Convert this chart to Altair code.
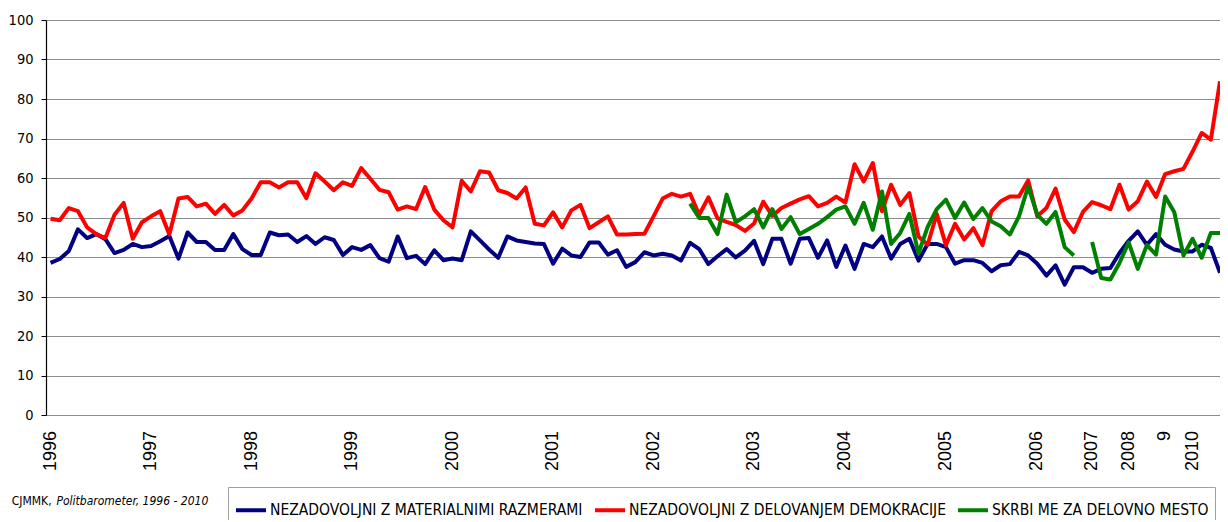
import altair as alt
import pandas as pd

NARROW = "DejaVu Sans Condensed, Liberation Sans Narrow, Liberation Sans, sans-serif"
REG = "Liberation Sans, Arial, sans-serif"

# survey index (one per poll)
categories = list(range(129))

blue = [38.5, 39.5, 41.5, 47.0, 44.8, 45.8, 44.5, 41.0, 41.8, 43.3,
        42.5, 42.8, 44.0, 45.3, 39.6, 46.2, 43.8, 43.8, 41.8, 41.8,
        45.8, 42.0, 40.5, 40.5, 46.2, 45.5, 45.7, 43.8, 45.3, 43.3,
        45.0, 44.3, 40.5, 42.5, 41.8, 43.0, 39.7, 38.8, 45.2, 39.7,
        40.3, 38.2, 41.7, 39.2, 39.6, 39.2, 46.5, 44.2, 41.9, 39.8,
        45.2, 44.2, 43.8, 43.4, 43.3, 38.3, 42.1, 40.4, 40.0, 43.7,
        43.7, 40.6, 41.7, 37.5, 38.7, 41.2, 40.4, 40.8, 40.4, 39.1,
        43.6, 42.0, 38.2, 40.2, 42.0, 39.9, 41.6, 44.1, 38.2, 44.6,
        44.6, 38.3, 44.6, 44.8, 39.8, 44.2, 37.5, 42.9, 37.0, 43.3,
        42.5, 45.2, 39.6, 43.3, 44.6, 39.1, 43.3, 43.3, 42.5, 38.3,
        39.2, 39.2, 38.5, 36.4, 37.9, 38.2, 41.3, 40.4, 38.3, 35.3,
        37.9, 33.0, 37.4, 37.4, 36.0, 37.0, 37.2, 41.0, 44.1, 46.5,
        43.1, 45.8, 43.1, 41.9, 41.4, 41.4, 43.1, 42.3, 36.0]

red = [49.7, 49.3, 52.4, 51.6, 47.5, 45.8, 44.8, 50.7, 53.7, 44.6,
       48.8, 50.3, 51.6, 45.7, 54.8, 55.2, 52.8, 53.5, 50.9, 53.2,
       50.5, 51.8, 54.8, 58.9, 58.9, 57.6, 58.9, 58.9, 54.9, 61.2,
       59.1, 56.9, 58.9, 58.0, 62.5, 59.8, 57.0, 56.4, 52.0, 52.8,
       52.1, 57.7, 52.0, 49.3, 47.5, 59.3, 56.6, 61.7, 61.4, 56.9,
       56.2, 54.8, 57.6, 48.4, 48.0, 51.3, 47.5, 51.8, 53.2, 47.3,
       48.8, 50.3, 45.7, 45.7, 45.8, 45.9, 50.3, 54.8, 56.0, 55.3,
       56.0, 50.7, 55.1, 49.8, 48.9, 48.1, 46.6, 48.5, 54.0, 50.4,
       52.4, 53.5, 54.6, 55.4, 52.8, 53.7, 55.3, 53.8, 63.5, 59.1,
       63.8, 51.6, 58.3, 53.2, 56.2, 45.2, 43.1, 50.9, 43.0, 48.4,
       44.4, 47.3, 43.0, 51.6, 54.1, 55.3, 55.3, 59.4, 50.3, 52.4,
       57.3, 49.5, 46.3, 51.4, 53.9, 53.1, 52.1, 58.3, 52.0, 54.1,
       59.1, 55.2, 61.0, 61.7, 62.3, 66.7, 71.4, 69.7, 84.5]

green = [None] * 70 + [
    53.5, 49.9, 49.9, 45.8, 55.8, 48.8, 50.3, 52.1, 47.5, 52.1,
    47.1, 50.1, 45.8, 47.1, 48.4, 50.1, 52.0, 52.8, 48.4, 53.7,
    46.9, 56.6, 43.3, 46.1, 50.9, 40.9, 47.6, 52.1, 54.5, 49.9,
    53.8, 49.6, 52.4, 49.0, 47.8, 45.7, 50.3, 57.9, 50.7, 48.4,
    51.4, 42.5, 40.4, None, 43.8, 34.7, 34.3, 38.5, 43.7, 37.0,
    43.0, 40.6, 55.3, 51.3, 40.4, 44.6, 39.8, 46.1, 46.1]

year_labels = ["1996", "1997", "1998", "1999", "2000", "2001", "2002", "2003",
               "2004", "2005", "2006", "2007", "2008", "9", "2010"]
year_pos = [0, 11, 22, 33, 44, 55, 66, 77, 87, 98, 108, 114, 118, 122, 125]

series_names = ["NEZADOVOLJNI Z MATERIALNIMI RAZMERAMI",
                "NEZADOVOLJNI Z DELOVANJEM DEMOKRACIJE",
                "SKRBI ME ZA DELOVNO MESTO"]
series_colors = ["#000080", "#FF0000", "#008000"]

rows = []
for i in categories:
    rows.append({"idx": i, "value": blue[i], "series": series_names[0], "seg": "b"})
    rows.append({"idx": i, "value": red[i], "series": series_names[1], "seg": "r"})
    rows.append({"idx": i, "value": green[i], "series": series_names[2],
                 "seg": "g1" if i < 113 else "g2"})
df = pd.DataFrame(rows).dropna()

W, H = 1174, 395
XMIN, XMAX = -0.5, 128.0
xscale = alt.Scale(domain=[XMIN, XMAX], nice=False, zero=False)
tick_vals = [k - 0.5 for k in range(130) if k - 0.5 <= XMAX]

color = alt.Color(
    "series:N",
    scale=alt.Scale(domain=series_names, range=series_colors),
    legend=alt.Legend(
        orient="none", legendX=182, legendY=467, direction="horizontal",
        title=None, symbolType="stroke", symbolSize=900, symbolStrokeWidth=4,
        labelFont=NARROW, labelFontSize=15.5, labelLimit=700, labelOffset=2,
        labelColor="black", columnPadding=4, strokeColor="#a0a0a0", padding=6,
    ),
)

x_main = alt.X("idx:Q", scale=xscale,
               axis=alt.Axis(values=tick_vals, labels=False, title=None, grid=False,
                             domainColor="black", tickColor="black", tickSize=5,
                             domainWidth=1.2, tickWidth=1))
y_main = alt.Y("value:Q", scale=alt.Scale(domain=[0, 100], nice=False),
               axis=alt.Axis(values=list(range(0, 101, 10)), title=None, grid=True,
                             gridColor="#8c8c8c", gridWidth=1, labelFont=NARROW,
                             labelFontSize=14.5, labelColor="black", tickColor="black",
                             tickSize=5, labelPadding=8, domainColor="black",
                             domainWidth=1.2))

layers = []
for k, name in enumerate(series_names):
    layers.append(
        alt.Chart(df).transform_filter(alt.datum.series == name)
        .mark_line(strokeWidth=4, strokeJoin="round")
        .encode(x=x_main, y=y_main, color=color, detail="seg:N")
    )

ydf = pd.DataFrame({"idx": year_pos, "label": year_labels})
years = alt.Chart(ydf).mark_text(
    angle=270, align="right", baseline="middle", font=REG, fontSize=18, color="black"
).encode(
    x=alt.X("idx:Q", scale=xscale, axis=None),
    y=alt.value(H + 16),
    text="label:N",
)

src1 = alt.Chart(pd.DataFrame({"t": ["CJMMK,"]})).mark_text(
    align="left", baseline="alphabetic", font=NARROW, fontSize=12, color="black"
).encode(x=alt.value(-34.3), y=alt.value(485), text="t:N")
src2 = alt.Chart(pd.DataFrame({"t": ["Politbarometer, 1996 - 2010"]})).mark_text(
    align="left", baseline="alphabetic", font=NARROW, fontSize=12, fontStyle="italic",
    color="black"
).encode(x=alt.value(10.5), y=alt.value(485), text="t:N")

chart = alt.layer(*layers, years, src1, src2).properties(
    width=W, height=H,
    autosize=alt.AutoSizeParams(type="none"),
    padding={"left": 38, "top": 12, "right": 0, "bottom": 105},
).configure_view(stroke=None)

chart.save("out.html", embed_options={"renderer": "svg", "actions": False})
